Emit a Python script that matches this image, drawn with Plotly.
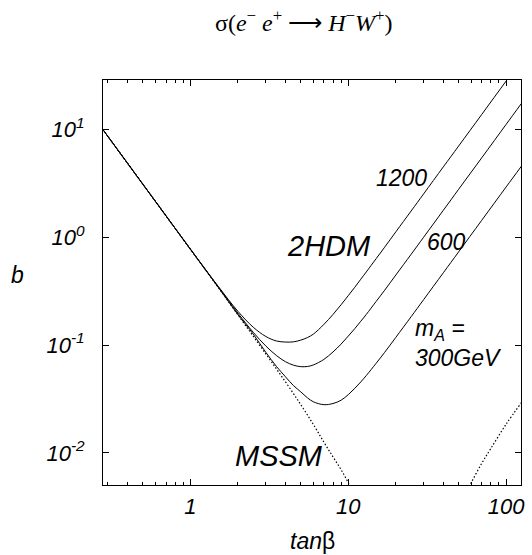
import plotly.graph_objects as go

# ---- data ----
tanb_mssm_low = [0.27, 0.4, 0.6, 1, 1.5, 2, 3, 4, 5, 6, 7, 8, 9, 10, 11]
b_mssm_low = [10.56, 4.81, 2.14, 0.77, 0.342, 0.190, 0.0829, 0.0455, 0.0280, 0.0184, 0.0126, 0.0092, 0.0070, 0.0053, 0.0041]

tanb_mssm_high = [50, 55, 60, 70, 80, 100, 125]
b_mssm_high = [0.0033, 0.0042, 0.0053, 0.0080, 0.0110, 0.0185, 0.0292]

tanb_2hdm = [0.27, 0.4, 0.6, 1, 1.5, 2, 2.5, 3, 3.5, 4, 4.5, 5, 5.5, 6, 7, 8, 9, 10, 11, 12, 13, 15, 17, 20, 25, 30, 40, 50, 70, 100, 125]
b_1200 = [10.56, 4.82, 2.14, 0.773, 0.349, 0.205, 0.146, 0.120, 0.109, 0.1065, 0.107, 0.111, 0.117, 0.126, 0.155, 0.192, 0.236, 0.287, 0.343, 0.407, 0.475, 0.630, 0.806, 1.118, 1.743, 2.51, 4.47, 6.97, 13.66, 27.9, 43.4]
b_600 = [10.56, 4.81, 2.14, 0.771, 0.345, 0.197, 0.131, 0.098, 0.080, 0.070, 0.065, 0.063, 0.0632, 0.0653, 0.0735, 0.0862, 0.102, 0.121, 0.142, 0.166, 0.192, 0.253, 0.322, 0.445, 0.692, 0.996, 1.77, 2.77, 5.42, 11.07, 17.3]
b_300 = [10.56, 4.81, 2.14, 0.770, 0.342, 0.191, 0.126, 0.0857, 0.0635, 0.0507, 0.0420, 0.0368, 0.0325, 0.0298, 0.0280, 0.0287, 0.0308, 0.0347, 0.0397, 0.0455, 0.0521, 0.0676, 0.0855, 0.1177, 0.1828, 0.263, 0.467, 0.729, 1.429, 2.913, 4.54]

x_tickvals = [1, 10, 100]
x_ticktext = ["1", "10", "100"]
x_minor = [0.3, 0.4, 0.5, 0.6, 0.7, 0.8, 0.9, 2, 3, 4, 5, 6, 7, 8, 9, 20, 30, 40, 50, 60, 70, 80, 90]
y_tickvals = [0.01, 0.1, 1, 10]
y_ticktext = ["10<sup>-2</sup>", "10<sup>-1</sup>", "10<sup>0</sup>", "10<sup>1</sup>"]

W, H = 532, 555
L, R, T, B = 103, 7, 80, 70
pw, ph = W - L - R, H - T - B

def px(xp):
    return (xp - L) / pw

def py(yp):
    return (H - B - yp) / ph

fig = go.Figure()
for xs, ys in ((tanb_mssm_low, b_mssm_low), (tanb_mssm_high, b_mssm_high)):
    fig.add_trace(go.Scatter(x=xs, y=ys, mode="lines",
                             line=dict(color="black", width=1.2, dash="1.5px,2px", shape="spline"),
                             showlegend=False, hoverinfo="skip"))
for ys in (b_300, b_600, b_1200):
    fig.add_trace(go.Scatter(x=tanb_2hdm, y=ys, mode="lines",
                             line=dict(color="black", width=1, shape="spline", smoothing=1),
                             showlegend=False, hoverinfo="skip"))

sans = "Liberation Sans"
fig.update_xaxes(type="log", range=[-0.554, 2.094],
                 tickvals=x_tickvals, ticktext=x_ticktext,
                 ticks="inside", ticklen=6, tickwidth=1, tickcolor="black",
                 minor=dict(tickvals=x_minor, ticks="inside", ticklen=3, tickwidth=1, tickcolor="black"),
                 showline=True, linecolor="black", linewidth=1, mirror="ticks",
                 showgrid=False, zeroline=False,
                 tickfont=dict(family=sans, size=22, color="black", style="italic"),
                 ticklabelstandoff=2)
fig.update_yaxes(type="log", range=[-2.297, 1.455],
                 tickvals=y_tickvals, ticktext=y_ticktext,
                 ticks="inside", ticklen=6, tickwidth=1, tickcolor="black",
                 showline=True, linecolor="black", linewidth=1, mirror="ticks",
                 showgrid=False, zeroline=False,
                 tickfont=dict(family=sans, size=22, color="black", style="italic"),
                 ticklabelstandoff=13)

def ann(text, x, y, size, xanchor="center", family=sans, style="italic"):
    fig.add_annotation(text=text, x=px(x), y=py(y), xref="paper", yref="paper",
                       showarrow=False, xanchor=xanchor, yanchor="middle",
                       font=dict(family=family, size=size, color="black", style=style))

ann("σ(<i>e</i><sup>−</sup> <i>e</i><sup>+</sup> ⟶ <i>H</i><sup>−</sup><i>W</i><sup>+</sup>)",
    305, 21, 24, family="Liberation Serif", style="normal")
ann("<i>tan</i>β", 314, 541, 23, style="normal")
ann("b", 17, 275, 23)
ann("1200", 404, 178, 23)
ann("2HDM", 331, 246, 29)
ann("600", 450, 242, 23)
ann("m<sub>A</sub> =", 416, 329, 23, xanchor="left")
ann("300GeV", 416, 358, 23, xanchor="left")
ann("MSSM", 281, 456, 29)

fig.update_layout(width=W, height=H, margin=dict(l=L, r=R, t=T, b=B, pad=0),
                  paper_bgcolor="white", plot_bgcolor="white", showlegend=False)
fig.write_html("out.html")
